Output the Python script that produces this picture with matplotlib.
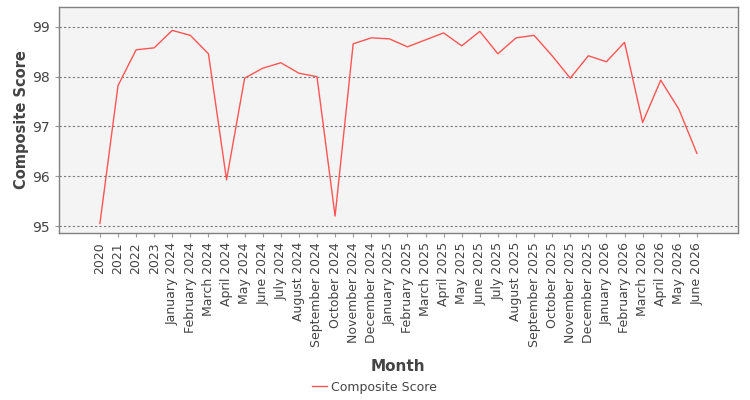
import numpy as np
import matplotlib.pyplot as plt

months = ['2020', '2021', '2022', '2023',
          'January 2024', 'February 2024', 'March 2024', 'April 2024', 'May 2024', 'June 2024',
          'July 2024', 'August 2024', 'September 2024', 'October 2024', 'November 2024', 'December 2024',
          'January 2025', 'February 2025', 'March 2025', 'April 2025', 'May 2025', 'June 2025',
          'July 2025', 'August 2025', 'September 2025', 'October 2025', 'November 2025', 'December 2025',
          'January 2026', 'February 2026', 'March 2026', 'April 2026', 'May 2026', 'June 2026']
scores = [95.05, 97.82, 98.54, 98.58,
          98.93, 98.83, 98.46, 95.93, 97.97, 98.17,
          98.28, 98.07, 98.00, 95.20, 98.66, 98.78,
          98.76, 98.60, 98.74, 98.88, 98.62, 98.91,
          98.46, 98.78, 98.83, 98.42, 97.97, 98.42,
          98.30, 98.69, 97.08, 97.93, 97.35, 96.46]

fig = plt.figure(figsize=(7.5, 4), dpi=100)
ax = fig.add_axes([0.0787, 0.4175, 0.905, 0.565])
ax.set_facecolor('#f4f4f4')

x = np.arange(len(months))
ax.plot(x, scores, color='#ff5555', lw=1, label='Composite Score')

ax.set_xlim(-2.26, len(months) - 1 + 2.26)
ax.set_ylim(94.86, 99.4)
ax.set_yticks([95, 96, 97, 98, 99])
ax.set_xticks(x)
ax.set_xticklabels(months, rotation=90, fontsize=9, color='#444444')
ax.tick_params(axis='y', labelsize=10, labelcolor='#444444', color='#999999', length=3)
ax.tick_params(axis='x', color='#999999', length=3)
ax.grid(axis='y', color='#777777', linestyle=(0, (2, 2)), lw=0.8)
for s in ax.spines.values():
    s.set_color('#808080')
    s.set_linewidth(1)

ax.set_ylabel('Composite Score', fontsize=10.5, fontweight='bold', color='#444444', labelpad=2)
ax.set_xlabel('Month', fontsize=11, fontweight='bold', color='#444444', labelpad=9)

ax.legend(loc='center', bbox_to_anchor=(0.4646, -0.682), frameon=False, fontsize=9,
          handlelength=1.2, handletextpad=0.35, labelcolor='#444444')

plt.savefig('out.png')
